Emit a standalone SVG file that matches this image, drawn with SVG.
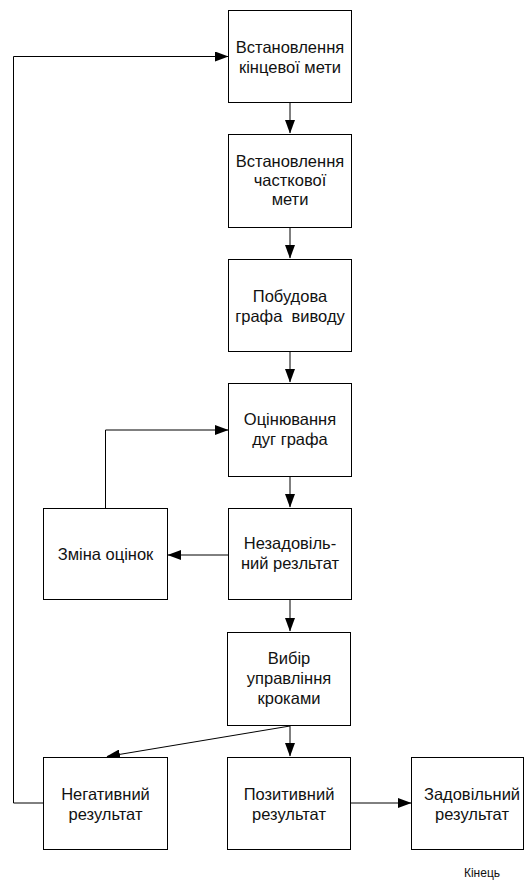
<svg xmlns="http://www.w3.org/2000/svg" width="525" height="881" viewBox="0 0 525 881">
<style>
rect.box{fill:#fff;stroke:#000;stroke-width:1}
text{font-family:"Liberation Sans",Arial,sans-serif;font-size:16.5px;font-weight:normal;fill:#111;text-anchor:middle}
text.small{font-size:12px}
.conn path{fill:none;stroke:#000;stroke-width:1}
</style>
<defs>
<marker id="arr" markerWidth="14" markerHeight="10" refX="13" refY="5" orient="auto" markerUnits="userSpaceOnUse">
<path d="M0,0 L13.5,5 L0,10 Z" fill="#000"/>
</marker>
</defs>
<rect width="525" height="881" fill="#fff"/>
<g class="conn">
<path d="M290,102 V133" marker-end="url(#arr)"/>
<path d="M290,228 V258" marker-end="url(#arr)"/>
<path d="M290,352 V382" marker-end="url(#arr)"/>
<path d="M290,477 V507" marker-end="url(#arr)"/>
<path d="M290,600 V631" marker-end="url(#arr)"/>
<path d="M290,726 V756" marker-end="url(#arr)"/>
<path d="M290,726 L107,756.5" marker-end="url(#arr)"/>
<path d="M229,555 H168" marker-end="url(#arr)"/>
<path d="M105.5,508 V430 H228" marker-end="url(#arr)"/>
<path d="M44,803 H13.5 V56.5 H228" marker-end="url(#arr)"/>
<path d="M350,803 H411" marker-end="url(#arr)"/>
</g>
<g id="n1"><rect class="box" x="228.5" y="10.5" width="123" height="92"/><text x="290" y="53">Встановлення</text><text x="290" y="73">кінцевої мети</text></g>
<g id="n2"><rect class="box" x="228.5" y="134.5" width="123" height="93"/><text x="290" y="167">Встановлення</text><text x="290" y="186">часткової</text><text x="290" y="205">мети</text></g>
<g id="n3"><rect class="box" x="228.5" y="259.5" width="123" height="92"/><text x="290" y="302">Побудова</text><text x="290" y="322" xml:space="preserve">графа  виводу</text></g>
<g id="n4"><rect class="box" x="228.5" y="383.5" width="123" height="93"/><text x="290" y="425">Оцінювання</text><text x="290" y="445">дуг графа</text></g>
<g id="n5"><rect class="box" x="228.5" y="508.5" width="123" height="91"/><text x="290" y="549">Незадовіль-</text><text x="290" y="569">ний резльтат</text></g>
<g id="n6"><rect class="box" x="43.5" y="508.5" width="124" height="91"/><text x="105.5" y="560">Зміна оцінок</text></g>
<g id="n7"><rect class="box" x="227.5" y="632.5" width="123" height="93"/><text x="289" y="664">Вибір</text><text x="289" y="684">управління</text><text x="289" y="704">кроками</text></g>
<g id="n8"><rect class="box" x="43.5" y="757.5" width="124" height="92"/><text x="105.5" y="800">Негативний</text><text x="105.5" y="820">результат</text></g>
<g id="n9"><rect class="box" x="227.5" y="757.5" width="123" height="92"/><text x="289" y="800">Позитивний</text><text x="289" y="820">результат</text></g>
<g id="n10"><rect class="box" x="411.5" y="757.5" width="112" height="92"/><text x="472" y="800">Задовільний</text><text x="472" y="820">результат</text></g>
<text class="small" x="482" y="877">Кінець</text>
</svg>
